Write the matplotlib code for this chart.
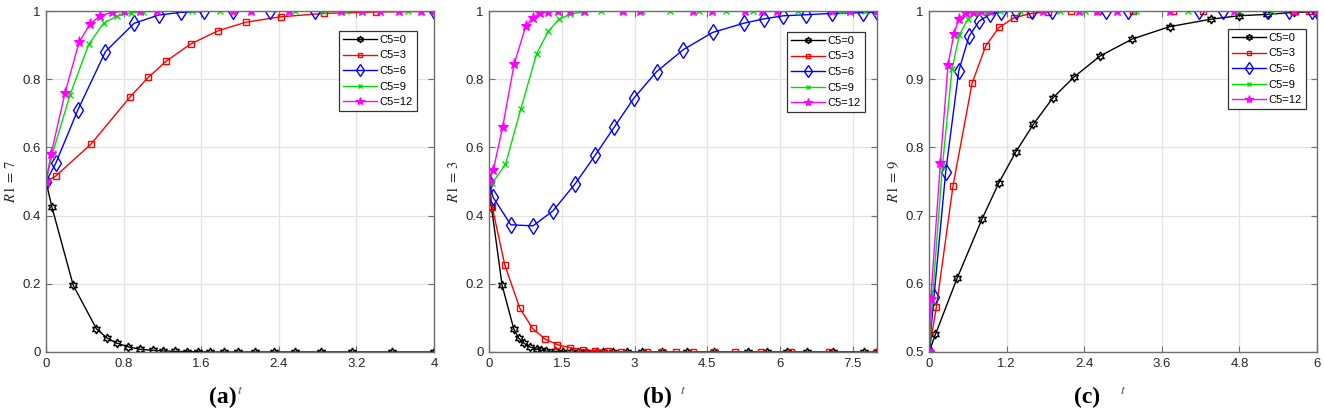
import matplotlib
matplotlib.use("Agg")
import matplotlib.pyplot as plt
from matplotlib.ticker import FuncFormatter

plt.rcParams['font.family'] = ['Liberation Sans', 'DejaVu Sans']
plt.rcParams['mathtext.fontset'] = 'stix'

labels = ["C5=0", "C5=3", "C5=6", "C5=9", "C5=12"]

# ---------------- Panel (a): R1 = 7 ----------------
ta0 = [0, 0.06, 0.28, 0.52, 0.63, 0.73, 0.85, 0.97, 1.10, 1.21, 1.33, 1.45, 1.57, 1.69, 1.83, 1.98, 2.15, 2.35, 2.57, 2.84, 3.15, 3.57, 4.0]
ya0 = [0.5, 0.426, 0.196, 0.068, 0.041, 0.026, 0.015, 0.008, 0.005, 0.003, 0.002, 0.001, 0.001, 0, 0, 0, 0, 0, 0, 0, 0, 0, 0]
ta3 = [0, 0.10, 0.465, 0.864, 1.053, 1.24, 1.49, 1.773, 2.06, 2.42, 2.87, 3.40, 4.0]
ya3 = [0.5, 0.516, 0.61, 0.747, 0.805, 0.853, 0.903, 0.942, 0.967, 0.983, 0.993, 0.997, 0.999]
ta6 = [0, 0.10, 0.327, 0.613, 0.909, 1.16, 1.387, 1.633, 1.93, 2.31, 2.77, 4.0]
ya6 = [0.5, 0.553, 0.709, 0.881, 0.964, 0.988, 0.996, 0.999, 1, 1, 1, 1]
ta9 = [0, 0.07, 0.248, 0.44, 0.593, 0.737, 0.875, 1.0, 1.14, 1.51, 1.79, 2.57, 2.86, 3.09, 3.73, 4.0]
ya9 = [0.5, 0.585, 0.754, 0.902, 0.964, 0.986, 0.994, 0.998, 0.999, 1, 1, 1, 1, 1, 1, 1]
ta12 = [0, 0.052, 0.196, 0.341, 0.454, 0.558, 0.678, 0.806, 0.964, 1.14, 1.93, 2.11, 2.50, 3.04, 3.26, 3.44, 3.64, 3.87, 4.0]
ya12 = [0.5, 0.58, 0.76, 0.908, 0.962, 0.986, 0.996, 0.999, 1, 1, 1, 1, 1, 1, 1, 1, 1, 1, 1]

# ---------------- Panel (b): R1 = 3 ----------------
tb0 = [0, 0.05, 0.27, 0.51, 0.61, 0.72, 0.84, 0.98, 1.08, 1.18, 1.36, 1.53, 1.70, 1.84, 2.01, 2.22, 2.35, 2.56, 2.84, 3.15, 3.56, 4.08, 4.64, 5.33, 5.73, 6.14, 6.55, 7.09, 7.74, 8.0]
yb0 = [0.5, 0.426, 0.196, 0.068, 0.041, 0.026, 0.015, 0.008, 0.005, 0.003, 0.002, 0.001] + [0] * 18
tb3 = [0, 0.065, 0.324, 0.633, 0.90, 1.155, 1.41, 1.67, 1.93, 2.18, 2.46, 2.73, 3.25, 3.56, 3.85, 4.20, 4.63, 5.07, 5.60, 6.22, 7.0, 8.0]
yb3 = [0.5, 0.426, 0.256, 0.129, 0.069, 0.038, 0.0215, 0.0125, 0.007, 0.004, 0.002, 0.001] + [0] * 10
tb6 = [0, 0.083, 0.45, 0.908, 1.32, 1.78, 2.19, 2.58, 2.99, 3.455, 4.01, 4.61, 5.25, 5.67, 6.07, 6.53, 7.07, 7.72, 8.0]
yb6 = [0.5, 0.454, 0.373, 0.370, 0.414, 0.494, 0.577, 0.659, 0.745, 0.822, 0.887, 0.937, 0.964, 0.977, 0.986, 0.989, 0.993, 0.995, 0.996]
tb9 = [0, 0.065, 0.34, 0.657, 0.98, 1.22, 1.445, 1.68, 1.976, 2.3, 2.75, 3.15, 3.73, 4.33, 4.89, 5.44, 6.38, 7.28, 7.76, 8.0]
yb9 = [0.5, 0.495, 0.55, 0.713, 0.874, 0.940, 0.976, 0.991, 0.998] + [1] * 11
tb12 = [0, 0.09, 0.282, 0.52, 0.757, 0.90, 1.046, 1.22, 1.43, 1.66, 1.96, 2.77, 3.12, 4.2, 4.59, 5.28, 5.63, 5.93, 7.07, 7.45, 8.0]
yb12 = [0.5, 0.535, 0.660, 0.845, 0.955, 0.980, 0.993, 0.998] + [1] * 13

# ---------------- Panel (c): R1 = 9 ----------------
tc0 = [0, 0.10, 0.434, 0.82, 1.08, 1.34, 1.615, 1.91, 2.24, 2.645, 3.145, 3.72, 4.36, 4.79, 5.22, 5.65, 6.0]
yc0 = [0.5, 0.526, 0.608, 0.695, 0.748, 0.793, 0.834, 0.872, 0.903, 0.934, 0.959, 0.977, 0.988, 0.993, 0.995, 0.998, 0.999]
tc3 = [0, 0.114, 0.372, 0.666, 0.878, 1.084, 1.316, 1.56, 1.84, 2.19, 2.62, 3.16, 3.78, 4.23, 5.66, 5.87, 6.0]
yc3 = [0.5, 0.566, 0.744, 0.894, 0.949, 0.976, 0.990, 0.996, 0.999] + [1] * 8
tc6 = [0, 0.077, 0.258, 0.46, 0.619, 0.774, 0.94, 1.12, 1.34, 1.6, 1.9, 2.73, 3.08, 4.17, 4.55, 5.24, 5.56, 5.92, 6.0]
yc6 = [0.5, 0.581, 0.764, 0.912, 0.963, 0.985, 0.995, 0.999] + [1] * 11
tc9 = [0, 0.05, 0.207, 0.356, 0.47, 0.6, 0.75, 0.9, 1.1, 1.4, 2.02, 2.41, 3.2, 4.0, 4.8, 5.3, 6.0]
yc9 = [0.5, 0.575, 0.772, 0.915, 0.965, 0.988, 0.997, 0.999] + [1] * 9
tc12 = [0, 0.026, 0.176, 0.294, 0.387, 0.464, 0.567, 0.68, 0.81, 0.95, 1.77, 2.32, 2.6, 2.91, 3.73, 4.71, 5.64, 6.0]
yc12 = [0.5, 0.577, 0.777, 0.921, 0.967, 0.988, 0.997, 0.999] + [1] * 10

panels = [
    dict(series=[(ta0, ya0), (ta3, ya3), (ta6, ya6), (ta9, ya9), (ta12, ya12)],
         xlim=(0, 4), xticks=[0, 0.8, 1.6, 2.4, 3.2, 4],
         ylim=(0, 1), yticks=[0, 0.2, 0.4, 0.6, 0.8, 1],
         ylabel=r"$R1\,=\,7$", tag="(a)", left=46, tagx=223, leg_r=17, leg_t=20),
    dict(series=[(tb0, yb0), (tb3, yb3), (tb6, yb6), (tb9, yb9), (tb12, yb12)],
         xlim=(0, 8), xticks=[0, 1.5, 3, 4.5, 6, 7.5],
         ylim=(0, 1), yticks=[0, 0.2, 0.4, 0.6, 0.8, 1],
         ylabel=r"$R1\,=\,3$", tag="(b)", left=489, tagx=657, leg_r=12, leg_t=21),
    dict(series=[(tc0, yc0), (tc3, yc3), (tc6, yc6), (tc9, yc9), (tc12, yc12)],
         xlim=(0, 6), xticks=[0, 1.2, 2.4, 3.6, 4.8, 6],
         ylim=(0.5, 1), yticks=[0.5, 0.6, 0.7, 0.8, 0.9, 1],
         ylabel=r"$R1\,=\,9$", tag="(c)", left=929, tagx=1087, leg_r=11, leg_t=18),
]

styles = [
    dict(color='#000000', marker=(6, 1, 0), markersize=6.5, mfc='none', mew=1.0),
    dict(color='#ff0000', marker='s', markersize=4.2, mfc='none', mew=1.0),
    dict(color='#0000ff', marker='d', markersize=8, mfc='none', mew=1.0),
    dict(color='#00e000', marker='x', markersize=4, mew=1.0),
    dict(color='#ff00ff', marker='*', markersize=8, mfc='#ff00ff', mew=0.8),
]

W, H = 1325, 413
fig = plt.figure(figsize=(W / 100, H / 100), dpi=100)
ax_w, ax_h = 388, 341
top_px = 11
fmt = FuncFormatter(lambda v, p: ('%g' % round(v, 4)))

for p in panels:
    ax = fig.add_axes([p['left'] / W, 1 - (top_px + ax_h) / H, ax_w / W, ax_h / H])
    for (tt, yy), st, lab in zip(p['series'], styles, labels):
        ax.plot(tt, yy, lw=1.0, label=lab, **st)
    ax.set_xlim(*p['xlim'])
    ax.set_ylim(*p['ylim'])
    ax.set_xticks(p['xticks'])
    ax.set_yticks(p['yticks'])
    ax.xaxis.set_major_formatter(fmt)
    ax.yaxis.set_major_formatter(fmt)
    ax.grid(True, color='#e3e3e3', lw=0.9)
    ax.set_axisbelow(True)
    for s in ax.spines.values():
        s.set_color('#6e6e6e')
        s.set_linewidth(1.0)
    ax.tick_params(direction='in', length=4, width=0.8, colors='#6e6e6e',
                   labelcolor='#262626', labelsize=9.5, top=True, right=True, pad=4)
    ax.set_xlabel('$t$', fontsize=10, color='#555555')
    ax.xaxis.set_label_coords(0.5, -31 / ax_h)
    ax.set_ylabel(p['ylabel'], fontsize=10.5, color='#262626')
    ax.yaxis.set_label_coords(-28 / ax_w, 0.5)
    leg = ax.legend(loc='upper right',
                    bbox_to_anchor=(1 - p['leg_r'] / ax_w, 1 - p['leg_t'] / ax_h),
                    borderaxespad=0, fontsize=8, handlelength=3.1, handletextpad=0.25,
                    labelspacing=0.5, borderpad=0.35, fancybox=False, framealpha=1,
                    edgecolor='#333333', markerscale=0.75)
    leg.get_frame().set_linewidth(0.9)
    fig.text(p['tagx'] / W, 1 - 397 / H, p['tag'], ha='center', va='center',
             fontsize=17, fontweight='bold', family='Liberation Serif')

fig.savefig('out.png', dpi=100)
